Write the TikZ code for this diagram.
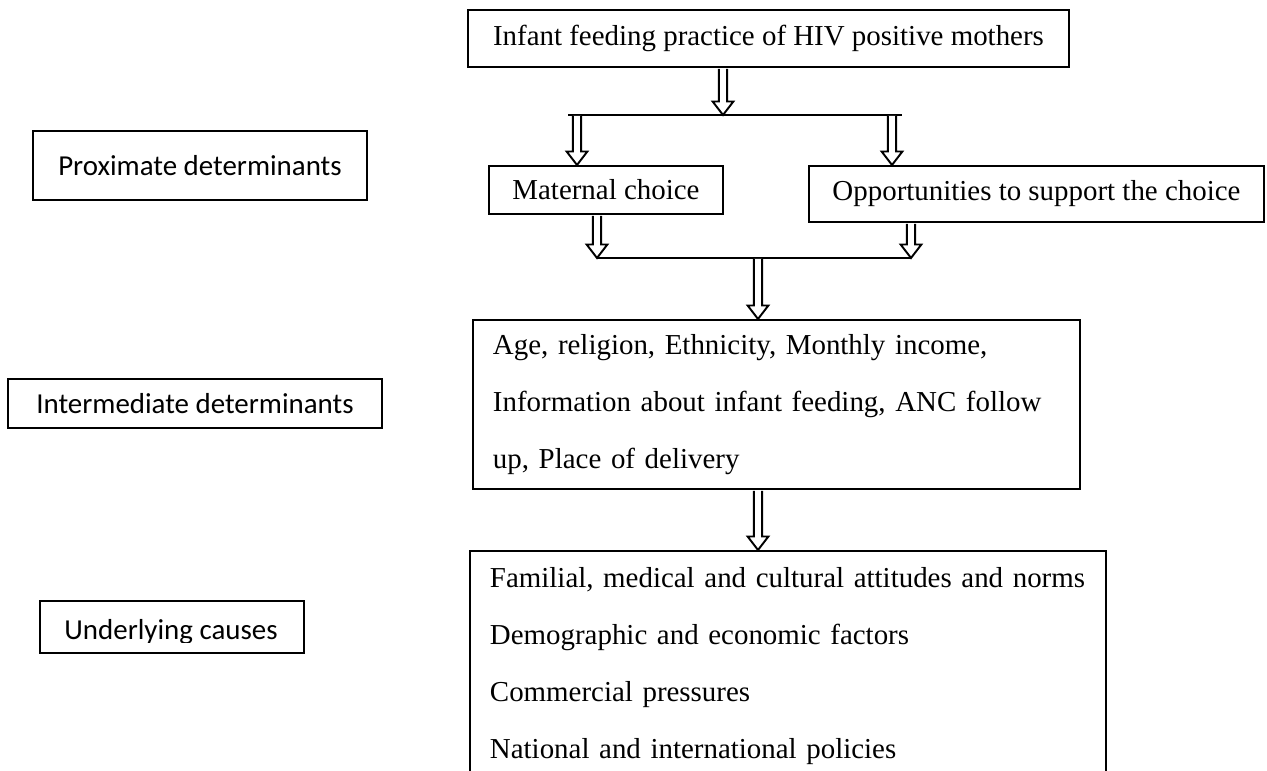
\documentclass[tikz,border=0pt]{standalone}
\usepackage{fontspec}
\setmainfont{Liberation Serif}
\newfontfamily\calibri{Carlito}
\usepackage{tikz}
\usetikzlibrary{calc}
\newcommand{\px}{0.415pt}
\tikzset{
  box/.style={draw,line width=0.8pt,inner sep=0pt,anchor=north west,
              font=\fontsize{12}{14}\selectfont},
  lbox/.style={box,font=\calibri\fontsize{12}{14}\selectfont},
  tbox/.style={box,align=left,inner xsep=20*\px,
               font=\fontsize{12}{23.7}\selectfont},
  hol/.style={draw,fill=white,line width=0.8pt,line join=miter},
  bar/.style={line width=0.8pt}
}
\newcommand{\blockarrow}[2]{%
  \draw[hol] let \p1=(#1), \p2=(#2) in
    (\x1-1.7pt,\y1-0.4pt) -- (\x1-1.7pt,\y2+5.6pt) -- (\x1-4.3pt,\y2+5.6pt)
    -- (\x1,\y2) -- (\x1+4.3pt,\y2+5.6pt) -- (\x1+1.7pt,\y2+5.6pt)
    -- (\x1+1.7pt,\y1-0.4pt);}

\begin{document}
\begin{tikzpicture}[x=\px,y=-\px]
  \useasboundingbox (0,0) rectangle (1267,770);
  \node[lbox,minimum width=334*\px,minimum height=69*\px] (proxLbl) at (32,130) {Proximate determinants};
  \node[lbox,minimum width=374*\px,minimum height=49*\px] (interLbl) at (7,378) {Intermediate determinants};
  \node[lbox,minimum width=264*\px,minimum height=52*\px] (underLbl) at (39,600) {};
  \begin{scope}
    \clip (underLbl.north west) rectangle ($(underLbl.south east)+(0,-11)$);
    \node[font=\calibri\fontsize{12}{14}\selectfont,anchor=base] (underTxt) at (171,639) {Underlying causes};
  \end{scope}

  \node[box,minimum width=601*\px,minimum height=57*\px] (practice) at (467,9) {Infant feeding practice of HIV positive mothers};
  \node[box,minimum width=234*\px,minimum height=48*\px] (maternal) at (488,165) {Maternal choice};
  \node[box,minimum width=455*\px,minimum height=56*\px] (support) at (808,165) {Opportunities to support the choice};
  \node[tbox,text width=567*\px,minimum height=169*\px] (factors) at (472,319)
    {Age, religion, Ethnicity, Monthly income,\\Information about infant feeding, ANC follow\\up, Place of delivery};
  \node[tbox,text width=596*\px,minimum height=230*\px] (causes) at (469,550)
    {Familial, medical and cultural attitudes and norms\\Demographic and economic factors\\Commercial pressures\\National and international policies};

  \coordinate (split) at (723,115);
  \coordinate (barL) at (568,115);
  \coordinate (barR) at (902,115);
  \coordinate (mTop) at (577,115);
  \coordinate (sTop) at (892,115);
  \coordinate (mBot) at (597,258);
  \coordinate (sBot) at (911,258);
  \coordinate (join) at (758,258);
  \draw[bar] (barL) -- (barR);
  \draw[bar] (mBot) -- (sBot);
  \blockarrow{split |- practice.south}{split}
  \blockarrow{mTop}{mTop |- maternal.north}
  \blockarrow{sTop}{sTop |- support.north}
  \blockarrow{mBot |- maternal.south}{mBot}
  \blockarrow{sBot |- support.south}{sBot}
  \blockarrow{join}{join |- factors.north}
  \blockarrow{join |- factors.south}{join |- causes.north}
\end{tikzpicture}
\end{document}
